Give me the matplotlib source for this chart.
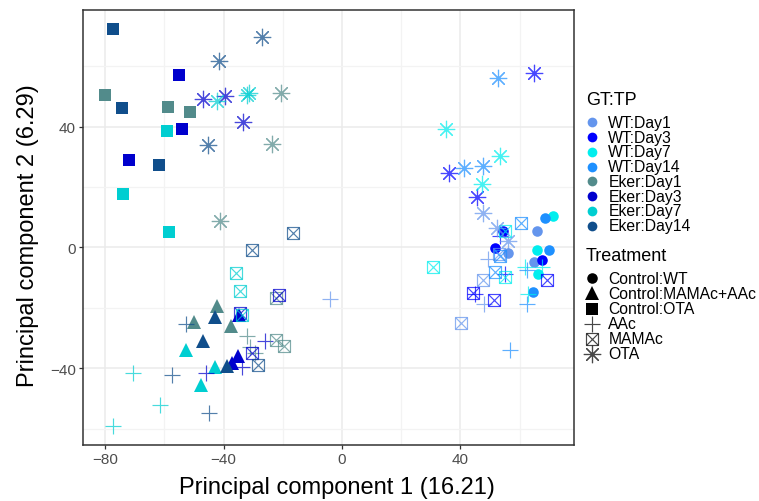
import matplotlib
matplotlib.use("Agg")
import matplotlib.pyplot as plt
from matplotlib.ticker import MultipleLocator

plt.rcParams["font.family"] = ["Liberation Sans", "DejaVu Sans"]

# Group (genotype:time point) levels and their colours
groups = ["WT:Day1", "WT:Day3", "WT:Day7", "WT:Day14",
          "Eker:Day1", "Eker:Day3", "Eker:Day7", "Eker:Day14"]
group_colors = ["#6495ED", "#0000FF", "#00EEEE", "#1E90FF",
                "#528B8B", "#0000CD", "#00CED1", "#104E8B"]

treatments = ["Control:WT", "Control:MAMAc+AAc", "Control:OTA", "AAc", "MAMAc", "OTA"]

# Control:WT
ctrl_wt_pc1 = [65.8, 56.2, 65.0, 54.5, 51.7, 67.5, 71.2, 65.8, 66.3, 68.7, 70.0, 64.6]
ctrl_wt_pc2 = [5.5, -2.0, -4.9, 5.5, -0.3, -4.0, 10.4, -0.7, -8.7, 9.7, -0.7, -14.7]
ctrl_wt_grp = ["WT:Day1"] * 3 + ["WT:Day3"] * 3 + ["WT:Day7"] * 3 + ["WT:Day14"] * 3

# Control:MAMAc+AAc
ctrl_mix_pc1 = [-42.1, -49.9, -37.6, -35.2, -37.3, -34.7, -52.7, -42.9, -47.6, -42.9, -46.9, -39.0]
ctrl_mix_pc2 = [-19.3, -24.8, -26.0, -35.8, -38.4, -22.3, -33.8, -39.6, -45.7, -22.9, -30.9, -39.3]
ctrl_mix_grp = ["Eker:Day1"] * 3 + ["Eker:Day3"] * 3 + ["Eker:Day7"] * 3 + ["Eker:Day14"] * 3

# Control:OTA
ctrl_ota_pc1 = [-80.1, -58.8, -51.4, -55.1, -54.1, -72.0, -59.1, -74.0, -58.4, -77.5, -74.3, -61.8]
ctrl_ota_pc2 = [50.6, 46.6, 44.9, 57.2, 39.3, 29.1, 38.6, 17.7, 5.2, 72.4, 46.0, 27.4]
ctrl_ota_grp = ["Eker:Day1"] * 3 + ["Eker:Day3"] * 3 + ["Eker:Day7"] * 3 + ["Eker:Day14"] * 3

# AAc
aac_pc1 = [-32.2, -31.1, -29.5, -45.9, -26.0, -33.8, -70.7, -61.4, -77.3, -52.8, -57.4, -45.0,
           -4.1, 49.4, 48.0, 53.4, 55.1, 44.9, 61.8, 62.9, 67.5, 62.4, 56.8, 62.5]
aac_pc2 = [-29.3, -33.0, -35.0, -41.4, -30.9, -39.6, -41.6, -52.0, -59.2, -25.3, -42.3, -54.8,
           -17.1, -3.9, -18.8, 3.8, -8.8, -15.5, -6.6, -15.5, -6.6, -18.8, -34.0, -7.5]
aac_grp = (["Eker:Day1"] * 3 + ["Eker:Day3"] * 3 + ["Eker:Day7"] * 3 + ["Eker:Day14"] * 3
           + ["WT:Day1"] * 3 + ["WT:Day3"] * 3 + ["WT:Day7"] * 3 + ["WT:Day14"] * 3)

# MAMAc
mamac_pc1 = [-22.3, -22.4, -19.6, -21.3, -34.4, -30.3, -35.7, -34.5, -33.7, -16.5, -30.5, -28.4,
             53.1, 47.7, 40.1, 69.4, 44.4, 51.5, 30.8, 55.1, 55.1, 60.5, 51.7, 53.5]
mamac_pc2 = [-16.8, -30.7, -32.6, -15.7, -21.6, -34.8, -8.4, -14.3, -22.4, 4.9, -0.9, -38.8,
             -2.2, -10.7, -25.1, -10.9, -15.1, -17.3, -6.4, 5.5, -9.8, 8.0, -8.1, -2.8]
mamac_grp = list(aac_grp)

# OTA
ota_pc1 = [-20.5, -23.5, -41.2, -47.1, -39.5, -33.4, -42.3, -31.3, -32.0, -27.0, -41.5, -45.3,
           47.7, 52.3, 56.2, 65.0, 36.3, 45.5, 35.0, 53.4, 47.2, 52.7, 41.3, 47.7]
ota_pc2 = [51.0, 34.1, 8.7, 49.1, 50.0, 41.6, 48.4, 51.0, 50.5, 69.7, 61.8, 33.9,
           11.3, 6.6, 2.1, 57.7, 24.6, 16.6, 39.3, 30.4, 21.0, 56.0, 26.3, 26.9]
ota_grp = list(aac_grp)

color_of = dict(zip(groups, group_colors))

W, H = 759, 502
fig = plt.figure(figsize=(W / 100, H / 100), dpi=100)
ax = fig.add_axes([83.3 / W, 1 - 445.7 / H, (574 - 83.3) / W, (445.7 - 10.7) / H])

LW = 0.85
ALPHA = 0.72


def draw(pc1, pc2, grp, kind):
    for x, y, g in zip(pc1, pc2, grp):
        c = color_of[g]
        if kind == "circle":
            ax.plot(x, y, "o", ms=7.6, color=c, mew=0, zorder=3)
        elif kind == "triangle":
            ax.plot(x, y, "^", ms=10.5, color=c, mew=0, zorder=3)
        elif kind == "square":
            ax.plot(x, y, "s", ms=8.6, color=c, mew=0, zorder=3)
        elif kind == "plus":
            ax.plot(x, y, "+", ms=12, color=c, mew=LW, alpha=ALPHA, zorder=3)
        elif kind == "boxx":
            ax.plot(x, y, "s", ms=8.6, mfc="none", mec=c, mew=LW, alpha=ALPHA, zorder=3)
            ax.plot(x, y, "x", ms=8.6, color=c, mew=LW, alpha=ALPHA, zorder=3)
        elif kind == "star":
            ax.plot(x, y, marker=(8, 2, 0), ms=12.5, color=c, mew=LW, alpha=ALPHA, zorder=3)


draw(ctrl_wt_pc1, ctrl_wt_pc2, ctrl_wt_grp, "circle")
draw(ctrl_mix_pc1, ctrl_mix_pc2, ctrl_mix_grp, "triangle")
draw(ctrl_ota_pc1, ctrl_ota_pc2, ctrl_ota_grp, "square")
draw(aac_pc1, aac_pc2, aac_grp, "plus")
draw(mamac_pc1, mamac_pc2, mamac_grp, "boxx")
draw(ota_pc1, ota_pc2, ota_grp, "star")

ax.set_xlim(-87.4, 78.4)
ax.set_ylim(-65.3, 78.7)
ax.xaxis.set_major_locator(MultipleLocator(40))
ax.yaxis.set_major_locator(MultipleLocator(40))
ax.xaxis.set_minor_locator(MultipleLocator(20))
ax.yaxis.set_minor_locator(MultipleLocator(20))
ax.grid(which="major", color="#EBEBEB", lw=1.1, zorder=0)
ax.grid(which="minor", color="#F3F3F3", lw=0.9, zorder=0)
ax.set_axisbelow(True)
ax.tick_params(which="minor", length=0)
ax.tick_params(which="major", length=3, width=0.9, color="#333333",
               labelcolor="#4D4D4D", labelsize=11, pad=2.5)
for s in ax.spines.values():
    s.set_color("#333333")
    s.set_linewidth(1.1)

fig.text(337 / W, 1 - 488 / H, "Principal component 1 (16.21)", fontsize=17,
         ha="center", va="center")
fig.text(28 / W, 1 - 236 / H, "Principal component 2 (6.29)", fontsize=17,
         ha="center", va="center", rotation=90)

# Legend keys drawn on an overlay in pixel coordinates
lax = fig.add_axes([0, 0, 1, 1])
lax.set_xlim(0, W)
lax.set_ylim(H, 0)
lax.axis("off")

KEY_X, TXT_X, TITLE_X = 591.7, 608.3, 585.7
LBL_FS, TTL_FS = 11.3, 13

lax.text(TITLE_X, 100.7, "GT:TP", fontsize=TTL_FS, va="center", ha="left")
for i, (g, c) in enumerate(zip(groups, group_colors)):
    y = 123.3 + i * 14.77
    lax.plot(KEY_X, y, "o", ms=7, color=c, mew=0)
    lax.text(TXT_X, y, g, fontsize=LBL_FS, va="center", ha="left")

lax.text(TITLE_X, 256.7, "Treatment", fontsize=TTL_FS, va="center", ha="left")
key_styles = [
    dict(marker="o", ms=7.6, color="black", mew=0),
    dict(marker="^", ms=10.5, color="black", mew=0),
    dict(marker="s", ms=8.6, color="black", mew=0),
    dict(marker="+", ms=12, color="black", mew=LW, alpha=ALPHA),
    dict(marker="s", ms=8.6, mfc="none", mec="black", mew=LW, alpha=ALPHA),
    dict(marker=(8, 2, 0), ms=12.5, color="black", mew=LW, alpha=ALPHA),
]
for i, (t, st) in enumerate(zip(treatments, key_styles)):
    y = 279.3 + i * 15.1
    lax.plot(KEY_X, y, linestyle="none", **st)
    if t == "MAMAc":
        lax.plot(KEY_X, y, "x", ms=8.6, color="black", mew=LW, alpha=ALPHA)
    lax.text(TXT_X, y, t, fontsize=LBL_FS, va="center", ha="left")

fig.savefig("out.png", dpi=100)
